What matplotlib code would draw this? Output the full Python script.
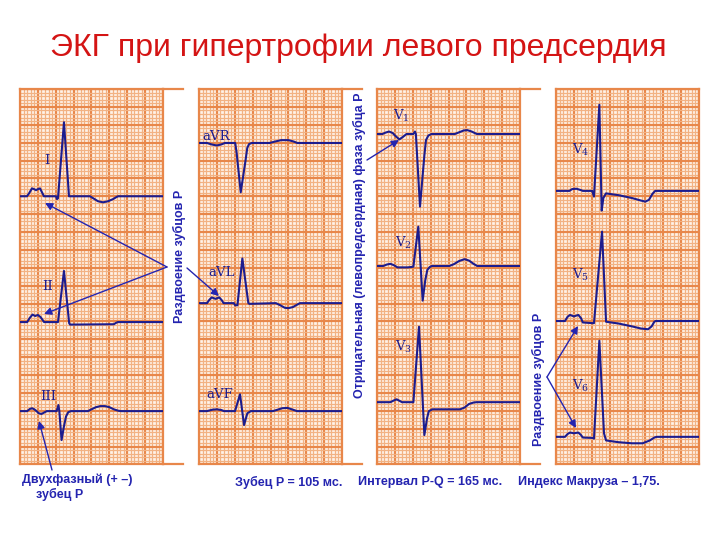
import numpy as np
import matplotlib
matplotlib.use("Agg")
import matplotlib.pyplot as plt

# ---------------- data (time in ms, amplitude in mV) ----------------
I_t   = [0, 78, 101, 134, 157, 179, 201, 224, 246, 268, 403, 414, 425, 492, 548, 783, 828, 873, 929, 985, 1041, 1074, 1097, 1600]
I_mv  = [0, 0, 0.08, 0.22, 0.20, 0.17, 0.20, 0.22, 0.11, 0, 0, -0.08, -0.06, 2.07, 0, 0, -0.07, -0.14, -0.17, -0.14, -0.08, -0.03, 0, 0]

II_t  = [0, 80, 110, 140, 170, 200, 230, 270, 420, 425, 492, 550, 560, 1050, 1075, 1095, 1600]
II_mv = [0, 0, 0.12, 0.21, 0.17, 0.20, 0.14, 0, 0, 0, 1.43, -0.03, -0.07, -0.06, -0.02, 0, 0]

III_t  = [0, 80, 110, 135, 160, 185, 210, 240, 270, 300, 410, 430, 440, 465, 490, 515, 540, 570, 760, 800, 850, 900, 950, 1000, 1050, 1100, 1130, 1600]
III_mv = [0, 0, 0.06, 0.08, 0.05, 0, -0.06, -0.08, -0.04, 0, 0, 0.17, 0, -0.81, -0.45, -0.15, -0.03, 0, 0, 0.05, 0.11, 0.14, 0.14, 0.11, 0.05, 0.01, 0, 0]

aVR_t  = [0, 90, 140, 200, 250, 290, 405, 420, 467, 520, 540, 560, 590, 790, 850, 920, 1000, 1060, 1100, 1600]
aVR_mv = [0, 0, -0.04, -0.07, -0.04, 0, 0, -0.25, -1.38, -0.5, -0.14, -0.03, 0, 0, 0.04, 0.08, 0.08, 0.04, 0, 0]

aVL_t  = [0, 90, 115, 142, 185, 227, 255, 275, 390, 405, 430, 485, 552, 565, 860, 910, 960, 1000, 1050, 1100, 1130, 1600]
aVL_mv = [0, 0, 0.09, 0.16, 0.12, 0.16, 0.08, 0, 0, -0.06, -0.06, 1.25, 0, -0.02, 0, -0.06, -0.13, -0.14, -0.11, -0.04, 0, 0]

aVF_t  = [0, 90, 150, 200, 250, 280, 403, 459, 504, 541, 580, 828, 880, 930, 990, 1050, 1097, 1600]
aVF_mv = [0, 0, 0.04, 0.05, 0.03, 0, 0, 0.47, -0.39, -0.06, 0, 0, 0.04, 0.08, 0.09, 0.04, 0, 0]

V1_t  = [0, 60, 95, 135, 175, 205, 250, 290, 330, 405, 425, 435, 481, 530, 548, 575, 610, 870, 920, 970, 1010, 1060, 1100, 1120, 1600]
V1_mv = [0, 0, 0.04, 0.07, 0.03, -0.05, -0.15, -0.08, 0, 0, 0.07, 0, -2.03, -0.6, -0.17, -0.04, 0, 0, 0.05, 0.10, 0.11, 0.07, 0.02, 0, 0]

V2_t  = [0, 70, 110, 150, 190, 230, 340, 380, 407, 462, 511, 540, 563, 590, 615, 810, 860, 920, 980, 1030, 1080, 1120, 1600]
V2_mv = [0, 0, 0.04, 0.06, 0.02, -0.04, -0.04, -0.03, -0.02, 1.10, -0.97, -0.4, -0.11, -0.03, 0, 0, 0.05, 0.14, 0.19, 0.15, 0.06, 0, 0]

V3_t  = [0, 150, 190, 220, 250, 280, 407, 470, 530, 560, 580, 620, 930, 980, 1030, 1080, 1115, 1600]
V3_mv = [0, 0, 0.05, 0.08, 0.04, 0, 0, 2.11, -0.92, -0.45, -0.25, -0.20, -0.20, -0.15, -0.05, -0.01, 0, 0]

V4_t  = [0, 150, 180, 230, 280, 300, 405, 425, 485, 511, 530, 559, 700, 850, 950, 1000, 1040, 1080, 1110, 1600]
V4_mv = [0, 0, 0.05, 0.06, 0.02, 0, 0, -0.16, 2.41, -0.55, -0.2, -0.07, -0.12, -0.20, -0.27, -0.30, -0.25, -0.08, 0, 0]

V5_t  = [0, 100, 130, 157, 200, 250, 280, 300, 410, 425, 515, 560, 700, 850, 950, 1030, 1070, 1100, 1115, 1600]
V5_mv = [0, 0, 0.12, 0.17, 0.13, 0.17, 0.08, -0.04, -0.06, -0.06, 2.50, -0.02, -0.07, -0.15, -0.21, -0.23, -0.15, -0.02, 0, 0]

V6_t  = [0, 100, 130, 157, 200, 250, 280, 300, 410, 425, 485, 537, 560, 700, 850, 970, 1050, 1100, 1127, 1600]
V6_mv = [0, 0, 0.08, 0.12, 0.10, 0.12, 0.05, -0.02, -0.03, -0.05, 2.69, 0.10, -0.10, -0.15, -0.18, -0.18, -0.10, -0.02, 0, 0]

lead_names = ["I", "II", "III", "aVR", "aVL", "aVF", "V1", "V2", "V3", "V4", "V5", "V6"]

title = "ЭКГ при гипертрофии левого предсердия"
bottom_notes = ["Двухфазный (+ –)", "зубец P", "Зубец P = 105 мс.", "Интервал P-Q = 165 мс.", "Индекс Макруза – 1,75."]
side_notes = ["Раздвоение зубцов P", "Отрицательная (левопредсердная) фаза зубца P", "Раздвоение зубцов P"]

# ---------------- layout / style ----------------
W, H = 720, 540
fig = plt.figure(figsize=(W / 100, H / 100), dpi=100)
fig.patch.set_facecolor("white")

TRACE = "#1c1c8e"
BLUE = "#2424b0"
MINOR = "#f2b283"
MAJOR = "#e8874a"
CELL = "#fff3e8"

panel_x = [20, 199, 377, 556]
panel_w = 143
top_px, bot_px = 89, 464
ylow = -(bot_px - top_px) / (panel_w / 40.0) / 10.0  # mV span of the grid

panels = [
    [(I_t, I_mv, -3.00), (II_t, II_mv, -6.52), (III_t, III_mv, -9.01)],
    [(aVR_t, aVR_mv, -1.51), (aVL_t, aVL_mv, -5.99), (aVF_t, aVF_mv, -9.01)],
    [(V1_t, V1_mv, -1.26), (V2_t, V2_mv, -4.95), (V3_t, V3_mv, -8.76)],
    [(V4_t, V4_mv, -2.85), (V5_t, V5_mv, -6.49), (V6_t, V6_mv, -9.73)],
]
ext = [20, 20, 20, 0]  # frame line extension (px)

for k, (px0, leads) in enumerate(zip(panel_x, panels)):
    ax = fig.add_axes([px0 / W, 1 - bot_px / H, panel_w / W, (bot_px - top_px) / H])
    ax.set_facecolor(CELL)
    ax.set_xlim(0, 1600)
    ax.set_ylim(ylow, 0)
    ax.set_xticks(np.arange(0, 1601, 200))
    ax.set_xticks(np.arange(0, 1601, 40), minor=True)
    ax.set_yticks(np.arange(0, ylow - 0.01, -0.5))
    ax.set_yticks(np.arange(0, ylow - 0.01, -0.1), minor=True)
    ax.grid(which="minor", color=MINOR, lw=0.9)
    ax.grid(which="major", color=MAJOR, lw=1.6)
    ax.tick_params(which="both", length=0, labelbottom=False, labelleft=False)
    for s in ax.spines.values():
        s.set_color(MAJOR)
        s.set_linewidth(1.6)
    if ext[k]:
        e = ext[k] / panel_w
        ax.plot([1, 1 + e], [1, 1], transform=ax.transAxes, color=MAJOR, lw=1.6, clip_on=False)
        ax.plot([1, 1 + e], [0, 0], transform=ax.transAxes, color=MAJOR, lw=1.6, clip_on=False)
    for t, v, base in leads:
        ax.plot(t, np.array(v) + base, color=TRACE, lw=1.5, solid_joinstyle="round", zorder=5)

# overlay in pixel coordinates for texts / arrows
ov = fig.add_axes([0, 0, 1, 1])
ov.set_xlim(0, W)
ov.set_ylim(H, 0)
ov.axis("off")
ov.patch.set_alpha(0)

ov.text(358, 48, title, color="#d41414", fontsize=23, family="Liberation Sans",
        ha="center", va="center")

label_pos = [(47, 160), (48, 287), (48, 396), (216, 137), (222, 273), (220, 395),
             (401, 116), (403, 243), (404, 347), (581, 150), (581, 275), (581, 386)]
for name, (x, y) in zip(lead_names, label_pos):
    if name.startswith("V"):
        s = r"$\mathregular{V_{%s}}$" % name[1]
    else:
        s = name
    ov.text(x, y, s, color=TRACE, fontsize=9.5, family="DejaVu Serif", ha="center", va="center")

bold = dict(color=BLUE, fontsize=9, fontweight="bold", family="Liberation Sans")
ov.text(22, 480, bottom_notes[0], ha="left", va="center", **bold)
ov.text(36, 494, bottom_notes[1], ha="left", va="center", **bold)
ov.text(235, 482, bottom_notes[2], ha="left", va="center", **bold)
ov.text(358, 482, bottom_notes[3], ha="left", va="center", **bold)
ov.text(518, 482, bottom_notes[4], ha="left", va="center", **bold)

ov.text(179, 256, side_notes[0], rotation=90, ha="center", va="center", **bold)
ov.text(359, 245, side_notes[1], rotation=90, ha="center", va="center", **bold)
ov.text(538, 379, side_notes[2], rotation=90, ha="center", va="center", **bold)

arrows = [((167, 267), (45, 203)), ((167, 267), (44, 314)), ((187, 268), (219, 296)),
          ((367, 160), (399, 140)), ((547, 377), (578, 326)), ((547, 377), (576, 428)),
          ((52, 470), (39, 421))]
for (x0, y0), (x1, y1) in arrows:
    ov.annotate("", xy=(x1, y1), xytext=(x0, y0),
                arrowprops=dict(arrowstyle="-|>", color=BLUE, lw=1.0,
                                mutation_scale=11, shrinkA=0, shrinkB=0))

fig.savefig("out.png", dpi=100)
